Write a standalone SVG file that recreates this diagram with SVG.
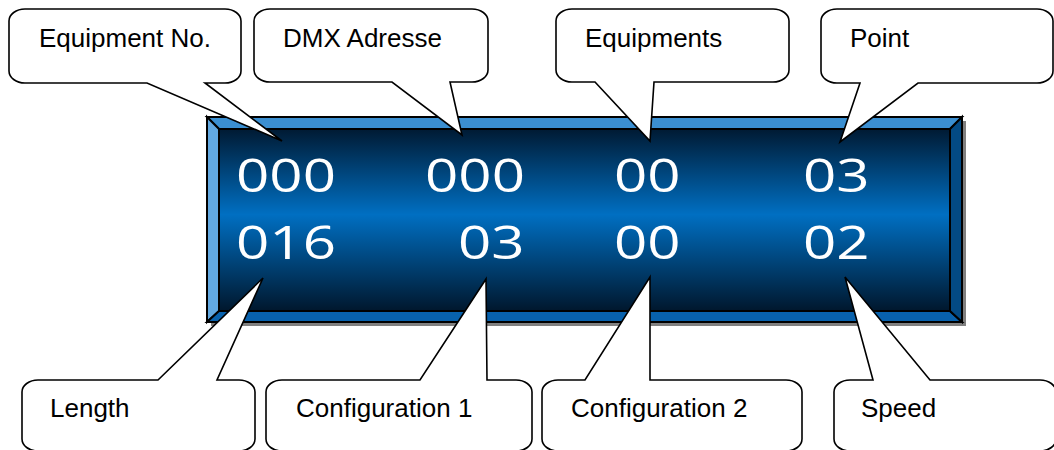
<svg xmlns="http://www.w3.org/2000/svg" width="1054" height="450" viewBox="0 0 1054 450">
  <style>
    .callout { fill: #ffffff; stroke: #000000; stroke-width: 1.6; stroke-linejoin: miter; }
    .label { font-family: "Liberation Sans", Arial, sans-serif; font-size: 26px; fill: #000000; }
    .val { font-family: "Open Sans", "DejaVu Sans", sans-serif; font-size: 45px; fill: #ffffff; }
    .bevel { stroke: #000000; stroke-width: 2; stroke-linejoin: miter; }
  </style>
  <defs>
    <linearGradient id="face" x1="0" y1="0" x2="0" y2="1">
      <stop offset="0" stop-color="#001a33"/>
      <stop offset="0.47" stop-color="#006fc2"/>
      <stop offset="1" stop-color="#00172d"/>
    </linearGradient>
  </defs>
  <rect width="1054" height="450" fill="#ffffff"/>

  <g id="display">
    <rect x="211" y="121" width="755" height="205" fill="#808080"/>
    <polygon class="bevel" points="207,117 962,117 950,129 219,129" fill="#3b8fd1"/>
    <polygon class="bevel" points="207,117 219,129 219,311 207,322" fill="#62a8e0"/>
    <polygon class="bevel" points="207,322 219,311 950,311 962,322" fill="#0861ac"/>
    <polygon class="bevel" points="962,117 950,129 950,311 962,322" fill="#034a84"/>
    <rect x="219" y="129" width="731" height="182" fill="url(#face)" stroke="#000000" stroke-width="2"/>
    <rect x="207" y="117" width="755" height="205" fill="none" stroke="#000000" stroke-width="2"/>
    <text class="val" x="236" y="192" textLength="100" lengthAdjust="spacingAndGlyphs">000</text>
    <text class="val" x="425" y="192" textLength="100" lengthAdjust="spacingAndGlyphs">000</text>
    <text class="val" x="614" y="192" textLength="66.6" lengthAdjust="spacingAndGlyphs">00</text>
    <text class="val" x="803" y="192" textLength="66.6" lengthAdjust="spacingAndGlyphs">03</text>
    <text class="val" x="236" y="259" textLength="100" lengthAdjust="spacingAndGlyphs">016</text>
    <text class="val" x="458" y="259" textLength="66.6" lengthAdjust="spacingAndGlyphs">03</text>
    <text class="val" x="614" y="259" textLength="66.6" lengthAdjust="spacingAndGlyphs">00</text>
    <text class="val" x="803" y="259" textLength="66.6" lengthAdjust="spacingAndGlyphs">02</text>
  </g>

  <g id="connectors"></g>

  <g id="equipment-no">
    <path class="callout" d="M25,9 H225 A16,12 0 0 1 241,21 V71 A16,12 0 0 1 225,83 H205 L282,141 L147,83 H25 A16,12 0 0 1 9,71 V21 A16,12 0 0 1 25,9 Z"/>
    <text class="label" x="39" y="47">Equipment No.</text>
  </g>
  <g id="dmx-adresse">
    <path class="callout" d="M270,9 H472 A16,12 0 0 1 488,21 V70 A16,12 0 0 1 472,82 H450 L462,135 L392,82 H270 A16,12 0 0 1 254,70 V21 A16,12 0 0 1 270,9 Z"/>
    <text class="label" x="283" y="47">DMX Adresse</text>
  </g>
  <g id="equipments">
    <path class="callout" d="M572,9 H773 A16,12 0 0 1 789,21 V70 A16,12 0 0 1 773,82 H654 L650,141 L595,82 H572 A16,12 0 0 1 556,70 V21 A16,12 0 0 1 572,9 Z"/>
    <text class="label" x="585" y="47">Equipments</text>
  </g>
  <g id="point">
    <path class="callout" d="M837,9 H1037 A16,12 0 0 1 1053,21 V71 A16,12 0 0 1 1037,83 H918 L840,142 L860,83 H837 A16,12 0 0 1 821,71 V21 A16,12 0 0 1 837,9 Z"/>
    <text class="label" x="850" y="47">Point</text>
  </g>

  <g id="length">
    <path class="callout" d="M38,380 H158 L263,278 L217,380 H239 A16,12 0 0 1 255,392 V439 A16,12 0 0 1 239,451 H38 A16,12 0 0 1 22,439 V392 A16,12 0 0 1 38,380 Z"/>
    <text class="label" x="50" y="417">Length</text>
  </g>
  <g id="configuration-1">
    <path class="callout" d="M282,380 H420 L486,279 L487,380 H516 A16,12 0 0 1 532,392 V439 A16,12 0 0 1 516,451 H282 A16,12 0 0 1 266,439 V392 A16,12 0 0 1 282,380 Z"/>
    <text class="label" x="296" y="417">Configuration 1</text>
  </g>
  <g id="configuration-2">
    <path class="callout" d="M558,380 H585 L650,277 L650,380 H786 A16,12 0 0 1 802,392 V439 A16,12 0 0 1 786,451 H558 A16,12 0 0 1 542,439 V392 A16,12 0 0 1 558,380 Z"/>
    <text class="label" x="571" y="417">Configuration 2</text>
  </g>
  <g id="speed">
    <path class="callout" d="M850,380 H873 L845,277 L930,380 H1040 A16,12 0 0 1 1056,392 V439 A16,12 0 0 1 1040,451 H850 A16,12 0 0 1 834,439 V392 A16,12 0 0 1 850,380 Z"/>
    <text class="label" x="861" y="417">Speed</text>
  </g>
</svg>
